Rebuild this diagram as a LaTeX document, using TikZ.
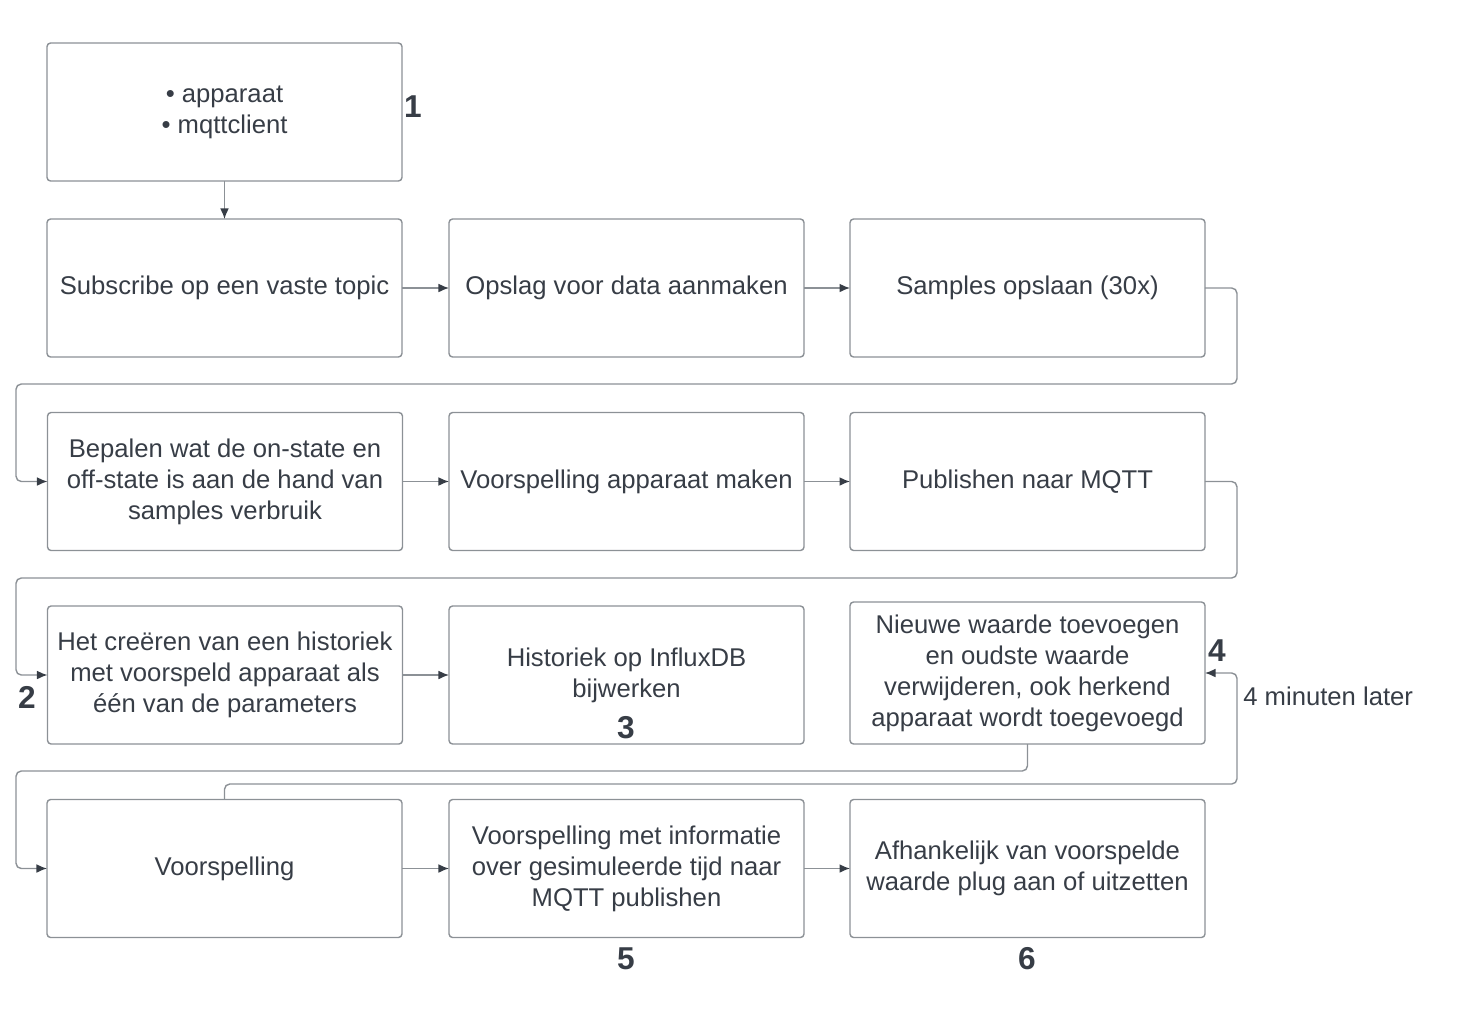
\documentclass[tikz,border=0pt]{standalone}
\usepackage{fontspec}
\setmainfont{Liberation Sans}
\usetikzlibrary{arrows.meta}
\definecolor{tekst}{RGB}{55,61,70}
\definecolor{rand}{RGB}{140,145,150}
\tikzset{
    stap/.style={draw=rand, line width=0.8pt, rounded corners=2pt, minimum width=7.1cm, minimum height=2.76cm, inner sep=0pt, outer sep=0pt, align=center, text=tekst, font=\fontsize{14.6}{17.6}\selectfont}, % blok van het stappenplan
    pijl/.style={draw=rand, line width=0.8pt, rounded corners=3pt, -{Latex[length=6pt, width=5pt, color=tekst]}}, % verbinding tussen blokken
    nummer/.style={text=tekst, font=\fontsize{18}{20}\selectfont\bfseries} % stapnummer
}

\begin{document}
\begin{tikzpicture}[x=0.02cm, y=-0.02cm]
    \useasboundingbox (0,0) rectangle (1457,1012);

    % blokken
    \node[stap] (apparaat) at (224.5,112) {\textbullet\ apparaat\\\textbullet\ mqttclient};

    \node[stap] (subscribe) at (224.5,288) {Subscribe op een vaste topic};
    \node[stap] (opslag) at (626.5,288) {Opslag voor data aanmaken};
    \node[stap] (samples) at (1027.5,288) {Samples opslaan (30x)};

    \node[stap] (bepalen) at (225,481.5) {Bepalen wat de on-state en\\off-state is aan de hand van\\samples verbruik};
    \node[stap] (apvoorsp) at (626.5,481.5) {Voorspelling apparaat maken};
    \node[stap] (publish) at (1027.5,481.5) {Publishen naar MQTT};

    \node[stap] (historiek) at (225,675) {Het creëren van een historiek\\met voorspeld apparaat als\\één van de parameters};
    \node[stap] (influx) at (626.5,675) {Historiek op InfluxDB\\bijwerken};
    \node[stap, minimum height=2.84cm] (nieuw) at (1027.5,673) {Nieuwe waarde toevoegen\\en oudste waarde\\verwijderen, ook herkend\\apparaat wordt toegevoegd};

    \node[stap] (voorspelling) at (224.5,868.5) {Voorspelling};
    \node[stap] (mqtt) at (626.5,868.5) {Voorspelling met informatie\\over gesimuleerde tijd naar\\MQTT publishen};
    \node[stap] (plug) at (1027.5,868.5) {Afhankelijk van voorspelde\\waarde plug aan of uitzetten};

    % stapnummers
    \foreach \x/\y/\nr in {413/107/1, 27/697/2, 626/728/3, 1217/651/4, 626/959/5, 1027/959/6} {
        \node[nummer] (nr\nr) at (\x,\y) {\nr};
    }

    % verbindingen
    \draw[pijl] (apparaat) -- (subscribe);
    \foreach \van/\naar in {subscribe/opslag, opslag/samples, bepalen/apvoorsp, apvoorsp/publish,
                            historiek/influx, voorspelling/mqtt, mqtt/plug} {
        \draw[pijl] (\van) -- (\naar);
    }

    \draw[pijl] (samples.east) -- ++(32,0) |- (16,384) |- (bepalen.west);
    \draw[pijl] (publish.east) -- ++(32,0) |- (16,578) |- (historiek.west);
    \draw[pijl] (nieuw.south) |- (16,771) |- (voorspelling.west);
    \draw[pijl] (voorspelling.north) |- (1237,784) |- (nieuw.east);

    \node[anchor=west, text=tekst, font=\fontsize{14.6}{17.6}\selectfont, inner sep=0pt] (later) at (1243,696) {4 minuten later};
\end{tikzpicture}
\end{document}
